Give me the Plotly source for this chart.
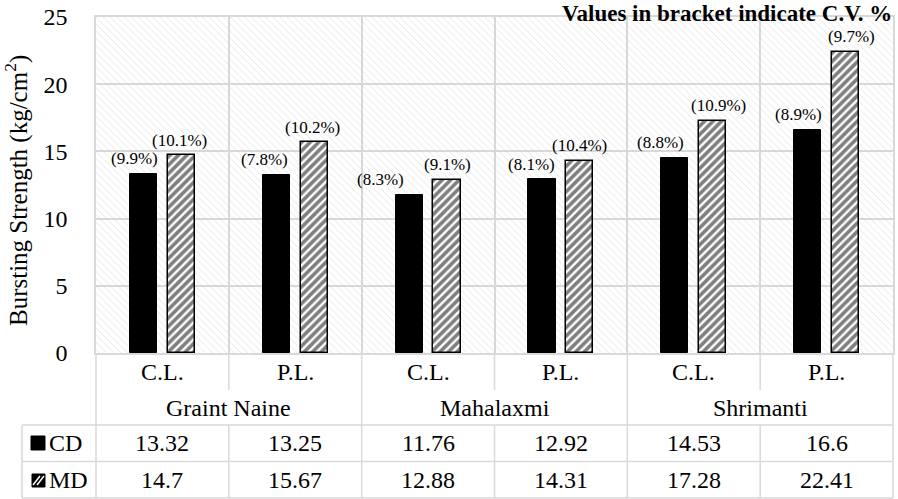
import plotly.graph_objects as go

# ---------------- data ----------------
groups = ["Graint Naine", "Mahalaxmi", "Shrimanti"]
subcats = ["C.L.", "P.L.", "C.L.", "P.L.", "C.L.", "P.L."]
cd = [13.32, 13.25, 11.76, 12.92, 14.53, 16.6]
md = [14.7, 15.67, 12.88, 14.31, 17.28, 22.41]
cv_cd = [9.9, 7.8, 8.3, 8.1, 8.8, 8.9]
cv_md = [10.1, 10.2, 9.1, 10.4, 10.9, 9.7]
series_names = ["CD", "MD"]
y_ticks = [0, 5, 10, 15, 20, 25]

# ---------------- layout geometry ----------------
W, H = 898, 499
L, R, T, B = 96, 893, 17, 353
PW, PH = R - L, B - T
FONT = "Liberation Serif, Times New Roman, serif"
GRID = "#d9d9d9"
n = len(subcats)
cw = PW / n

def xp(px):
    return (px - L) / PW

def yp(py):
    return (B - py) / PH

idx = list(range(n))
bw = 0.205
gap = 0.04

# label nudges (pixels)
dx_cd = [-9, -12, -29, -10, -14, -9]
dx_md = [-2, -2, 0, 0, 6, 6]

fig = go.Figure()

# hatched plot-area background
fig.add_trace(go.Bar(
    x=[(n - 1) / 2], y=[max(y_ticks)], width=[n], base=0,
    marker=dict(color="rgba(0,0,0,0)", line=dict(width=0),
                pattern=dict(shape="\\", fgcolor="#c8c8c8", size=5,
                             solidity=0.16, fillmode="overlay")),
    hoverinfo="skip", showlegend=False))

fig.add_trace(go.Bar(
    x=idx, y=cd, name=series_names[0], offset=-gap - bw, width=bw,
    marker=dict(color="black", line=dict(color="black", width=1)),
    showlegend=False))
fig.add_trace(go.Bar(
    x=idx, y=md, name=series_names[1], offset=gap, width=bw,
    marker=dict(color="white", line=dict(color="black", width=1.5),
                pattern=dict(shape="/", fgcolor="black", bgcolor="white",
                             size=6, solidity=0.6)),
    showlegend=False))

annotations = []
LF = dict(family=FONT, size=17, color="black")
# C.V. labels
for i in idx:
    annotations.append(dict(x=i - gap - bw / 2, y=cd[i], xref="x", yref="y",
                            text=f"({cv_cd[i]:g}%)", showarrow=False,
                            xanchor="center", yanchor="middle", yshift=15,
                            xshift=dx_cd[i], font=LF))
    annotations.append(dict(x=i + gap + bw / 2, y=md[i], xref="x", yref="y",
                            text=f"({cv_md[i]:g}%)", showarrow=False,
                            xanchor="center", yanchor="middle", yshift=15,
                            xshift=dx_md[i], font=LF))

# category labels and table values
TF = dict(family=FONT, size=24, color="black")

def cell(x, y, text, anchor="center"):
    annotations.append(dict(x=x, y=y, xref="paper", yref="paper", text=text,
                            showarrow=False, xanchor=anchor, yanchor="middle",
                            font=TF))

for i in idx:
    cx = xp(L + (i + 0.5) * cw)
    cell(cx, yp(372), subcats[i])
    cell(cx, yp(443), f"{cd[i]:g}")
    cell(cx, yp(480), f"{md[i]:g}")
for g, name in enumerate(groups):
    cell(xp(L + (2 * g + 1) * cw), yp(408), name)

# legend names in table
for name, py in zip(series_names, [443, 480]):
    cell(xp(47), yp(py), name, anchor="left")

# y-axis title
annotations.append(dict(x=xp(17), y=yp(191), xref="paper", yref="paper",
                        text="Bursting Strength (kg/cm<sup>2</sup>)", textangle=-90,
                        xanchor="center", yanchor="middle",
                        showarrow=False, font=dict(family=FONT, size=25, color="black")))
# note
annotations.append(dict(x=1.0, y=yp(0), xref="paper", yref="paper",
                        text="<b>Values in bracket indicate C.V. %</b>",
                        showarrow=False, xanchor="right", yanchor="top",
                        borderpad=0,
                        font=dict(family=FONT, size=23, color="black")))

shapes = []
def line(x0, y0, x1, y1):
    shapes.append(dict(type="line", xref="paper", yref="paper",
                       x0=xp(x0), y0=yp(y0), x1=xp(x1), y1=yp(y1),
                       line=dict(color=GRID, width=1.5)))

# group verticals
for g in range(len(groups) + 1):
    px = L + 2 * g * cw
    line(px, B, px, 498)
# subcategory dividers
for g in range(len(groups)):
    px = L + (2 * g + 1) * cw
    line(px, B, px, 390)
    line(px, 425, px, 498)
for py in [425, 461.5, 498]:
    line(22, py, R, py)
line(22, 425, 22, 498)

# legend keys
shapes.append(dict(type="rect", xref="paper", yref="paper",
                   x0=xp(31), x1=xp(45), y0=yp(436), y1=yp(450),
                   fillcolor="black", line=dict(color="black", width=1)))
shapes.append(dict(type="rect", xref="paper", yref="paper",
                   x0=xp(32), x1=xp(45), y0=yp(474), y1=yp(487),
                   fillcolor="black", line=dict(color="black", width=1)))
for k in [0, 4]:
    shapes.append(dict(type="line", xref="paper", yref="paper",
                       x0=xp(33 + k), y0=yp(485), x1=xp(40 + k), y1=yp(476),
                       line=dict(color="white", width=1.5)))

fig.update_layout(
    width=W, height=H,
    margin=dict(l=L, r=W - R, t=T, b=H - B, pad=0, autoexpand=False),
    paper_bgcolor="white", plot_bgcolor="white",
    barmode="overlay", bargap=0,
    showlegend=False,
    annotations=annotations, shapes=shapes,
    font=dict(family=FONT, color="black"),
    xaxis=dict(range=[-0.5, n - 0.5], tickvals=[i - 0.5 for i in range(n + 1)],
               showticklabels=False, showgrid=True, gridcolor=GRID, gridwidth=1.5,
               showline=True, mirror=True, linecolor=GRID, linewidth=1.5,
               zeroline=False, ticks="", fixedrange=True, automargin=False),
    yaxis=dict(range=[0, 25], tickvals=y_ticks, showgrid=True, gridcolor=GRID,
               gridwidth=1.5, showline=True, mirror=True, linecolor=GRID,
               linewidth=1.5, zeroline=False, ticks="", ticklabelstandoff=22,
               tickfont=dict(family=FONT, size=24, color="black"),
               fixedrange=True, automargin=False),
)

fig.write_html("out.html", config={"displayModeBar": False},
               post_script="document.body.style.margin='0';document.body.style.overflow='hidden';")
